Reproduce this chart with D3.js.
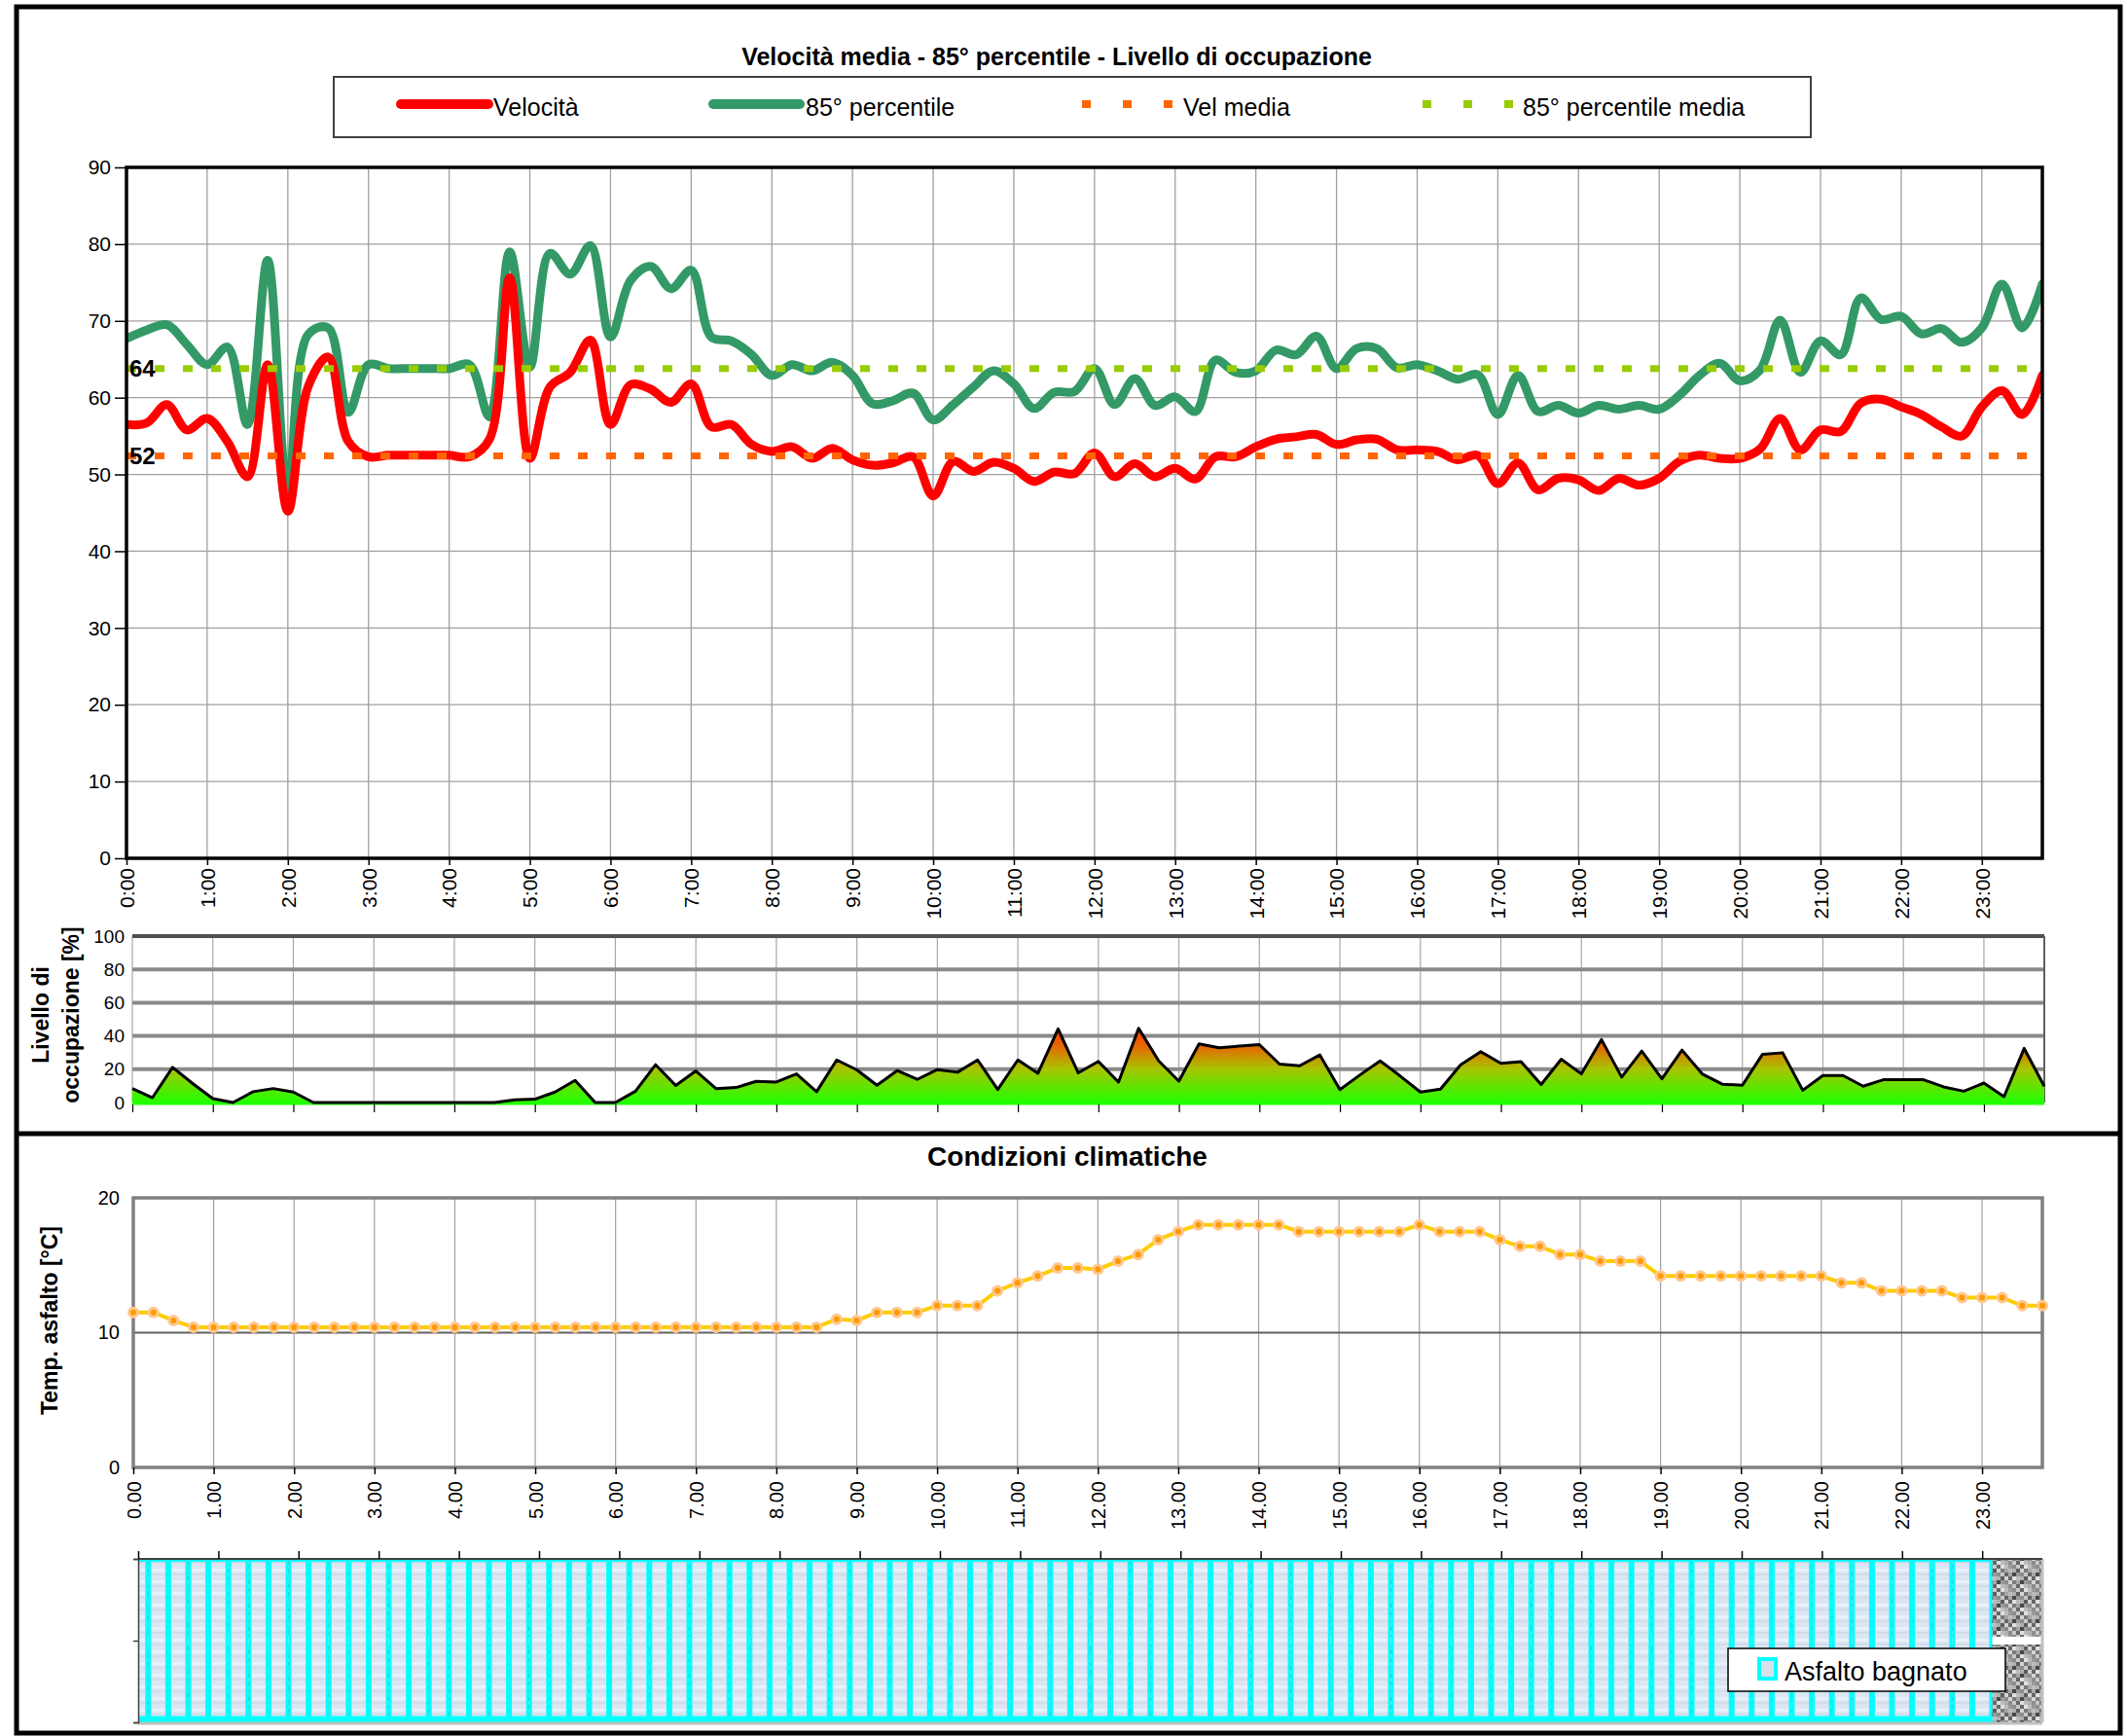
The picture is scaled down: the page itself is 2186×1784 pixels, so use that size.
<!DOCTYPE html>
<html>
<head>
<meta charset="utf-8">
<script src="https://cdn.jsdelivr.net/npm/d3@7"></script>
<style>
  body { margin: 0; background: #fff; }
  svg text { font-family: "Liberation Sans", Arial, sans-serif; }
</style>
</head>
<body>
<div id="chart"></div>
<script>
// ---------- data (15 minute slots, 0:00 .. 23:45) ----------
const hourLabels = ["0:00","1:00","2:00","3:00","4:00","5:00","6:00","7:00","8:00","9:00","10:00","11:00",
  "12:00","13:00","14:00","15:00","16:00","17:00","18:00","19:00","20:00","21:00","22:00","23:00"];
const hourLabelsTemp = ["0.00","1.00","2.00","3.00","4.00","5.00","6.00","7.00","8.00","9.00","10.00","11.00",
  "12.00","13.00","14.00","15.00","16.00","17.00","18.00","19.00","20.00","21.00","22.00","23.00"];

const velocita = [
  56.5, 56.7, 59.1, 55.8,  57.3, 54.3, 49.7, 64.3,  45.2, 61.4, 65.3, 54.3,  52.3, 52.5, 52.5, 52.5,
  52.5, 52.3, 54.6, 75.6,  52.1, 61.4, 63.3, 67.5,  56.5, 61.7, 61.1, 59.4,  61.8, 56.2, 56.5, 53.9,
  53.0, 53.6, 52.1, 53.4,  51.9, 51.2, 51.5, 52.3,  47.2, 51.7, 50.4, 51.6,  50.8, 49.1, 50.3, 50.1,
  52.8, 49.7, 51.4, 49.7,  50.8, 49.4, 52.3, 52.3,  53.6, 54.6, 54.9, 55.2,  53.9, 54.5, 54.6, 53.2,
  53.2, 53.0, 51.9, 52.5,  48.8, 51.5, 48.0, 49.5,  49.3, 47.9, 49.5, 48.6,  49.5, 51.7, 52.5, 52.1,
  52.1, 53.3, 57.3, 53.2,  55.8, 55.6, 59.3, 59.8,  58.8, 57.8, 56.2, 55.0,  58.8, 60.9, 57.8, 62.9
];
const percentile85 = [
  67.7, 68.8, 69.5, 66.9,  64.3, 66.6, 56.5, 77.9,  48.1, 68.2, 69.1, 58.1,  64.3, 63.8, 63.8, 63.8,
  63.8, 64.3, 57.5, 79.0,  64.0, 78.8, 76.1, 79.8,  67.9, 75.3, 77.1, 74.2,  76.6, 67.9, 67.4, 65.6,
  62.9, 64.3, 63.5, 64.6,  62.9, 59.2, 59.6, 60.6,  57.1, 59.1, 61.4, 63.5,  61.8, 58.6, 60.7, 60.8,
  63.8, 59.1, 62.5, 59.0,  60.1, 58.2, 64.9, 63.3,  63.5, 66.2, 65.6, 68.0,  63.8, 66.4, 66.4, 63.9,
  64.3, 63.5, 62.4, 63.0,  57.8, 62.9, 58.2, 59.0,  58.0, 59.0, 58.5, 59.0,  58.5, 60.3, 62.9, 64.5,
  62.2, 63.6, 70.1, 63.3,  67.4, 65.6, 73.0, 70.2,  70.6, 68.3, 69.0, 67.2,  69.1, 74.8, 69.1, 74.8
];
const velMedia = 52.4;
const percentile85Media = 63.8;

const occupazione = [
  8.4, 2.9, 21.1, 11.4,  2.3, 0, 6.5, 8.4,  6.3, 0, 0, 0,  0, 0, 0, 0,
  0, 0, 0, 1.6,  2.0, 6.3, 13.3, 0,  0, 6.8, 22.7, 10.2,  19.0, 8.4, 9.0, 12.7,
  12.3, 17.2, 6.5, 25.6,  19.6, 10.4, 19.2, 13.9,  19.8, 18.2, 25.6, 7.8,  25.6, 17.6, 44.2, 17.8,
  24.7, 12.3, 44.6, 25.0,  12.9, 35.2, 32.9, 33.9,  34.8, 23.1, 22.1, 28.6,  7.8, 16.6, 25.0, 15.9,
  6.3, 8.0, 22.7, 30.5,  23.5, 24.5, 10.8, 26.0,  17.2, 37.8, 15.3, 30.9,  14.3, 31.5, 17.2, 11.0,
  10.4, 29.0, 29.9, 7.4,  16.2, 16.2, 9.8, 13.7,  13.7, 13.7, 9.4, 6.8,  11.7, 3.5, 32.5, 9.8
];

const tempAsfalto = [
  11.5, 11.5, 10.9, 10.4,  10.4, 10.4, 10.4, 10.4,  10.4, 10.4, 10.4, 10.4,  10.4, 10.4, 10.4, 10.4,
  10.4, 10.4, 10.4, 10.4,  10.4, 10.4, 10.4, 10.4,  10.4, 10.4, 10.4, 10.4,  10.4, 10.4, 10.4, 10.4,
  10.4, 10.4, 10.4, 11.0,  10.9, 11.5, 11.5, 11.5,  12.0, 12.0, 12.0, 13.1,  13.7, 14.2, 14.8, 14.8,
  14.7, 15.3, 15.8, 16.9,  17.5, 18.0, 18.0, 18.0,  18.0, 18.0, 17.5, 17.5,  17.5, 17.5, 17.5, 17.5,
  18.0, 17.5, 17.5, 17.5,  16.9, 16.4, 16.4, 15.8,  15.8, 15.3, 15.3, 15.3,  14.2, 14.2, 14.2, 14.2,
  14.2, 14.2, 14.2, 14.2,  14.2, 13.7, 13.7, 13.1,  13.1, 13.1, 13.1, 12.6,  12.6, 12.6, 12.0, 12.0
];

// 1 = asfalto bagnato in that slot
const asfaltoBagnato = [
  1,1,1,1, 1,1,1,1, 1,1,1,1, 1,1,1,1, 1,1,1,1, 1,1,1,1, 1,1,1,1, 1,1,1,1,
  1,1,1,1, 1,1,1,1, 1,1,1,1, 1,1,1,1, 1,1,1,1, 1,1,1,1, 1,1,1,1, 1,1,1,1,
  1,1,1,1, 1,1,1,1, 1,1,1,1, 1,1,1,1, 1,1,1,1, 1,1,1,1, 1,1,1,1, 1,0,0,0
];

// ---------- svg ----------
const width = 2186, height = 1784;
const font = "\"Liberation Sans\", Arial, sans-serif";

const svg = d3.select("#chart").append("svg")
  .attr("width", width)
  .attr("height", height);

const defs = svg.append("defs");

const slot = i => i * 0.25;   // slot index -> hours

// outer frame + separator
svg.append("rect")
  .attr("x", 17).attr("y", 7)
  .attr("width", 2162).attr("height", 1774)
  .attr("fill", "#fff").attr("stroke", "#000").attr("stroke-width", 5);
svg.append("line")
  .attr("x1", 17).attr("x2", 2179).attr("y1", 1165).attr("y2", 1165)
  .attr("stroke", "#000").attr("stroke-width", 5);

function rotatedLabels(g, top) {
  g.selectAll(".tick text")
    .attr("transform", "rotate(-90)")
    .attr("text-anchor", "end")
    .attr("x", -top)
    .attr("y", 0)
    .attr("dy", "0.35em");
}

/*********************** Velocità chart *********************/
var xMain = d3.scaleLinear().domain([0, 23.75]).range([130, 2099]);
var yMain = d3.scaleLinear().domain([0, 90]).range([882, 172]);

svg.append("text")
  .attr("x", 1086).attr("y", 67)
  .attr("text-anchor", "middle")
  .style("font-size", "25px").style("font-weight", "bold")
  .text("Velocità media - 85° percentile - Livello di occupazione");

// legend
var leg = svg.append("g");
leg.append("rect")
  .attr("x", 343).attr("y", 79).attr("width", 1518).attr("height", 62)
  .attr("fill", "#fff").attr("stroke", "#404040").attr("stroke-width", 2);
leg.append("line").attr("x1", 412).attr("x2", 502).attr("y1", 107).attr("y2", 107)
  .attr("stroke", "#ff0000").attr("stroke-width", 10).attr("stroke-linecap", "round");
leg.append("line").attr("x1", 733).attr("x2", 822).attr("y1", 107).attr("y2", 107)
  .attr("stroke", "#339966").attr("stroke-width", 10).attr("stroke-linecap", "round");
leg.append("line").attr("x1", 1112).attr("x2", 1205).attr("y1", 107).attr("y2", 107)
  .attr("stroke", "#ff6600").attr("stroke-width", 8).attr("stroke-dasharray", "9,33");
leg.append("line").attr("x1", 1462).attr("x2", 1555).attr("y1", 107).attr("y2", 107)
  .attr("stroke", "#99cc00").attr("stroke-width", 8).attr("stroke-dasharray", "9,33");
[["Velocità", 507], ["85° percentile", 828], ["Vel media", 1216], ["85° percentile media", 1565]]
  .forEach(function (d) {
    leg.append("text").attr("x", d[1]).attr("y", 119)
      .style("font-size", "25px").text(d[0]);
  });

// grid
var gMain = svg.append("g");
gMain.selectAll(".vgrid").data(d3.range(1, 24)).enter().append("line")
  .attr("x1", d => xMain(d)).attr("x2", d => xMain(d))
  .attr("y1", yMain(90)).attr("y2", yMain(0))
  .attr("stroke", "#a0a0a0").attr("stroke-width", 1.3);
gMain.selectAll(".hgrid").data(d3.range(10, 90, 10)).enter().append("line")
  .attr("x1", xMain(0)).attr("x2", xMain(23.75))
  .attr("y1", d => yMain(d)).attr("y2", d => yMain(d))
  .attr("stroke", "#a0a0a0").attr("stroke-width", 1.3);

// axes
var yAxis = d3.axisLeft(yMain).tickValues(d3.range(0, 100, 10)).tickSize(12).tickPadding(4);
var gy = svg.append("g").attr("transform", "translate(" + xMain(0) + ",0)").call(yAxis);
gy.select(".domain").remove();
gy.selectAll("line").attr("stroke", "#000").attr("stroke-width", 1.5);
gy.selectAll("text").style("font-size", "21px").style("font-family", font).attr("fill", "#000");

var xAxis = d3.axisBottom(xMain).tickValues(d3.range(24)).tickFormat(d => hourLabels[d]).tickSize(7);
var gx = svg.append("g").attr("transform", "translate(0," + yMain(0) + ")").call(xAxis);
gx.select(".domain").remove();
gx.selectAll("line").attr("stroke", "#000").attr("stroke-width", 1.5);
gx.selectAll("text").style("font-size", "21px").style("font-family", font).attr("fill", "#000");
rotatedLabels(gx, 10);

// series
var plotLine = d3.line()
  .x(function (d, i) { return xMain(slot(i)); })
  .y(function (d) { return yMain(d); })
  .curve(d3.curveCatmullRom.alpha(0.5));

defs.append("clipPath").attr("id", "clipMain")
  .append("rect").attr("x", xMain(0)).attr("y", yMain(90) - 10)
  .attr("width", xMain(23.75) - xMain(0)).attr("height", yMain(0) - yMain(90) + 10);

var gSeries = svg.append("g").attr("clip-path", "url(#clipMain)");
gSeries.append("path").datum(percentile85)
  .attr("d", plotLine).attr("fill", "none")
  .attr("stroke", "#339966").attr("stroke-width", 9)
  .attr("stroke-linejoin", "round").attr("stroke-linecap", "round");
gSeries.append("path").datum(velocita)
  .attr("d", plotLine).attr("fill", "none")
  .attr("stroke", "#ff0000").attr("stroke-width", 9)
  .attr("stroke-linejoin", "round").attr("stroke-linecap", "round");

[[velMedia, "#ff6600"], [percentile85Media, "#99cc00"]].forEach(function (d) {
  svg.append("line")
    .attr("x1", xMain(0)).attr("x2", xMain(23.75))
    .attr("y1", yMain(d[0])).attr("y2", yMain(d[0]))
    .attr("stroke", d[1]).attr("stroke-width", 7)
    .attr("stroke-dasharray", "10,19");
  svg.append("text")
    .attr("x", xMain(0) + 3).attr("y", yMain(d[0]))
    .attr("dy", "0.36em")
    .style("font-size", "24px").style("font-weight", "bold")
    .text(Math.round(d[0]));
});

// plot border
svg.append("rect")
  .attr("x", xMain(0)).attr("y", yMain(90))
  .attr("width", xMain(23.75) - xMain(0)).attr("height", yMain(0) - yMain(90))
  .attr("fill", "none").attr("stroke", "#000").attr("stroke-width", 3.5);

/*********************** Occupazione chart *********************/
var xOcc = d3.scaleLinear().domain([0, 23.75]).range([136, 2101]);
var yOcc = d3.scaleLinear().domain([0, 100]).range([1133, 962]);

var grad = defs.append("linearGradient").attr("id", "occGrad")
  .attr("gradientUnits", "userSpaceOnUse")
  .attr("x1", 0).attr("x2", 0).attr("y1", yOcc(0)).attr("y2", yOcc(45));
[[0, "#22ff00"], [0.45, "#a8c400"], [0.72, "#e07000"], [1, "#ff3300"]].forEach(function (s) {
  grad.append("stop").attr("offset", s[0]).attr("stop-color", s[1]);
});

var gOcc = svg.append("g");
gOcc.selectAll(".vgrid").data(d3.range(0, 24)).enter().append("line")
  .attr("x1", d => xOcc(d)).attr("x2", d => xOcc(d))
  .attr("y1", yOcc(100)).attr("y2", yOcc(0))
  .attr("stroke", "#a8a8a8").attr("stroke-width", 1.2);
gOcc.selectAll(".hgrid").data([20, 40, 60, 80]).enter().append("line")
  .attr("x1", xOcc(0)).attr("x2", xOcc(23.75))
  .attr("y1", d => yOcc(d)).attr("y2", d => yOcc(d))
  .attr("stroke", "#8a8a8a").attr("stroke-width", 4);
gOcc.append("line")
  .attr("x1", xOcc(0)).attr("x2", xOcc(23.75))
  .attr("y1", yOcc(100)).attr("y2", yOcc(100))
  .attr("stroke", "#505050").attr("stroke-width", 4);
gOcc.append("line")
  .attr("x1", xOcc(23.75)).attr("x2", xOcc(23.75))
  .attr("y1", yOcc(100)).attr("y2", yOcc(0))
  .attr("stroke", "#606060").attr("stroke-width", 2);

var occArea = d3.area()
  .x(function (d, i) { return xOcc(slot(i)); })
  .y0(yOcc(0))
  .y1(function (d) { return yOcc(d); });
var occLine = d3.line()
  .x(function (d, i) { return xOcc(slot(i)); })
  .y(function (d) { return yOcc(d); });

gOcc.append("path").datum(occupazione).attr("d", occArea).attr("fill", "url(#occGrad)");
gOcc.append("line")
  .attr("x1", xOcc(0)).attr("x2", xOcc(23.75))
  .attr("y1", yOcc(0) + 1).attr("y2", yOcc(0) + 1)
  .attr("stroke", "#22ff00").attr("stroke-width", 3);
gOcc.append("path").datum(occupazione).attr("d", occLine)
  .attr("fill", "none").attr("stroke", "#000").attr("stroke-width", 3)
  .attr("stroke-linejoin", "round");

var occY = d3.axisLeft(yOcc).tickValues([0, 20, 40, 60, 80, 100]).tickSize(0).tickPadding(8);
var goy = svg.append("g").attr("transform", "translate(" + xOcc(0) + ",0)").call(occY);
goy.select(".domain").remove();
goy.selectAll("text").style("font-size", "19px").style("font-family", font).attr("fill", "#000");

var occX = d3.axisBottom(xOcc).tickValues(d3.range(24)).tickFormat("").tickSize(8);
var gox = svg.append("g").attr("transform", "translate(0," + (yOcc(0) + 2) + ")").call(occX);
gox.select(".domain").remove();
gox.selectAll("line").attr("stroke", "#000").attr("stroke-width", 1.2);

var occTitle = svg.append("text")
  .attr("transform", "translate(0,1043) rotate(-90)")
  .attr("text-anchor", "middle")
  .style("font-size", "23px").style("font-weight", "bold");
occTitle.append("tspan").attr("x", 0).attr("y", 50).text("Livello di");
occTitle.append("tspan").attr("x", 0).attr("y", 81).text("occupazione [%]");

/*********************** Condizioni climatiche *********************/
svg.append("text")
  .attr("x", 1097).attr("y", 1198)
  .attr("text-anchor", "middle")
  .style("font-size", "28px").style("font-weight", "bold")
  .text("Condizioni climatiche");

var xTemp = d3.scaleLinear().domain([0, 23.75]).range([137, 2099]);
var yTemp = d3.scaleLinear().domain([0, 20]).range([1508, 1231]);

var gTemp = svg.append("g");
gTemp.selectAll(".vgrid").data(d3.range(1, 24)).enter().append("line")
  .attr("x1", d => xTemp(d)).attr("x2", d => xTemp(d))
  .attr("y1", yTemp(20)).attr("y2", yTemp(0))
  .attr("stroke", "#a0a0a0").attr("stroke-width", 1.2);
gTemp.append("line")
  .attr("x1", xTemp(0)).attr("x2", xTemp(23.75))
  .attr("y1", yTemp(10)).attr("y2", yTemp(10))
  .attr("stroke", "#606060").attr("stroke-width", 1.8);
gTemp.append("rect")
  .attr("x", xTemp(0)).attr("y", yTemp(20))
  .attr("width", xTemp(23.75) - xTemp(0)).attr("height", yTemp(0) - yTemp(20))
  .attr("fill", "none").attr("stroke", "#808080").attr("stroke-width", 3.5);

var tY = d3.axisLeft(yTemp).tickValues([0, 10, 20]).tickSize(0).tickPadding(14);
var gty = svg.append("g").attr("transform", "translate(" + xTemp(0) + ",0)").call(tY);
gty.select(".domain").remove();
gty.selectAll("text").style("font-size", "20px").style("font-family", font).attr("fill", "#000");

var tX = d3.axisBottom(xTemp).tickValues(d3.range(24)).tickFormat(d => hourLabelsTemp[d]).tickSize(7);
var gtx = svg.append("g").attr("transform", "translate(0," + yTemp(0) + ")").call(tX);
gtx.select(".domain").remove();
gtx.selectAll("line").attr("stroke", "#000").attr("stroke-width", 1.5);
gtx.selectAll("text").style("font-size", "20px").style("font-family", font).attr("fill", "#000");
rotatedLabels(gtx, 14);

var tempLine = d3.line()
  .x(function (d, i) { return xTemp(slot(i)); })
  .y(function (d) { return yTemp(d); });
gTemp.append("path").datum(tempAsfalto).attr("d", tempLine)
  .attr("fill", "none").attr("stroke", "#ffcc00").attr("stroke-width", 4)
  .attr("stroke-linejoin", "round");
gTemp.selectAll(".halo").data(tempAsfalto).enter().append("circle")
  .attr("cx", (d, i) => xTemp(slot(i))).attr("cy", d => yTemp(d))
  .attr("r", 6).attr("fill", "#ffc890");
gTemp.selectAll(".dot").data(tempAsfalto).enter().append("circle")
  .attr("cx", (d, i) => xTemp(slot(i))).attr("cy", d => yTemp(d))
  .attr("r", 3).attr("fill", "#ff9900");

svg.append("text")
  .attr("transform", "translate(59,1357) rotate(-90)")
  .attr("text-anchor", "middle")
  .style("font-size", "23px").style("font-weight", "bold")
  .text("Temp. asfalto [°C]");

/*********************** Asfalto bagnato *********************/
var xWet = d3.scaleLinear().domain([0, 23.75]).range([142, 2099]);
var yWet = d3.scaleLinear().domain([0, 1]).range([1770, 1602]);

// granite texture for the plot background
var shades = ["#9a9a9a", "#5c5c5c", "#c8c8c8", "#7a7a7a", "#e0e0e0", "#484848",
              "#b0b0b0", "#8c8c8c", "#d4d4d4", "#666666", "#a6a6a6", "#bdbdbd"];
var gran = defs.append("pattern").attr("id", "granito")
  .attr("patternUnits", "userSpaceOnUse").attr("width", 24).attr("height", 24);
d3.range(36).forEach(function (k) {
  gran.append("rect")
    .attr("x", (k % 6) * 4).attr("y", Math.floor(k / 6) * 4)
    .attr("width", 4).attr("height", 4)
    .attr("fill", shades[(k * 7 + Math.floor(k / 6) * 5) % shades.length]);
});

var wetFill = defs.append("pattern").attr("id", "wetFill")
  .attr("patternUnits", "userSpaceOnUse").attr("width", 20).attr("height", 12);
wetFill.append("rect").attr("width", 20).attr("height", 12).attr("fill", "#dce6f2");
wetFill.append("rect").attr("y", 4).attr("width", 20).attr("height", 3).attr("fill", "#e8f0fa");
wetFill.append("rect").attr("y", 9).attr("width", 20).attr("height", 2).attr("fill", "#d2dcea");

var gWet = svg.append("g");
gWet.append("rect")
  .attr("x", xWet(0)).attr("y", yWet(1))
  .attr("width", xWet(23.75) - xWet(0)).attr("height", yWet(0) - yWet(1))
  .attr("fill", "url(#granito)");
gWet.append("line")
  .attr("x1", xWet(0)).attr("x2", xWet(23.75))
  .attr("y1", yWet(0.5)).attr("y2", yWet(0.5))
  .attr("stroke", "#fff").attr("stroke-width", 8);

defs.append("clipPath").attr("id", "clipWet")
  .append("rect").attr("x", xWet(0)).attr("y", yWet(1) - 3)
  .attr("width", xWet(23.75) - xWet(0)).attr("height", yWet(0) - yWet(1) + 6);

var slotW = xWet(0.25) - xWet(0);
gWet.append("g").attr("clip-path", "url(#clipWet)")
  .selectAll("rect")
  .data(asfaltoBagnato.map((v, i) => ({ v: v, i: i })).filter(d => d.v > 0))
  .enter().append("rect")
  .attr("x", d => xWet(slot(d.i)) - slotW / 2 + 1.5)
  .attr("y", d => yWet(d.v) + 1.5)
  .attr("width", slotW - 3)
  .attr("height", d => yWet(0) - yWet(d.v) - 3)
  .attr("fill", "url(#wetFill)")
  .attr("stroke", "#00ffff").attr("stroke-width", 3);
gWet.append("line")
  .attr("x1", xWet(0)).attr("x2", xWet(23.125))
  .attr("y1", yWet(0) - 3).attr("y2", yWet(0) - 3)
  .attr("stroke", "#00ffff").attr("stroke-width", 7);

// borders
gWet.append("line").attr("x1", xWet(23.75)).attr("x2", xWet(23.75))
  .attr("y1", yWet(1)).attr("y2", yWet(0))
  .attr("stroke", "#c0c0c0").attr("stroke-width", 3);
gWet.append("line").attr("x1", xWet(0)).attr("x2", xWet(23.75))
  .attr("y1", yWet(0) + 1).attr("y2", yWet(0) + 1)
  .attr("stroke", "#c0c0c0").attr("stroke-width", 3);
gWet.append("line").attr("x1", xWet(0)).attr("x2", xWet(23.75))
  .attr("y1", yWet(1)).attr("y2", yWet(1))
  .attr("stroke", "#404040").attr("stroke-width", 2);

var wY = d3.axisLeft(yWet).tickValues([0, 0.5, 1]).tickFormat("").tickSize(5);
var gwy = svg.append("g").attr("transform", "translate(" + xWet(0) + ",0)").call(wY);
gwy.selectAll("path, line").attr("stroke", "#404040").attr("stroke-width", 1.5);

var wX = d3.axisTop(xWet).tickValues(d3.range(24)).tickFormat("").tickSize(8);
var gwx = svg.append("g").attr("transform", "translate(0," + yWet(1) + ")").call(wX);
gwx.select(".domain").remove();
gwx.selectAll("line").attr("stroke", "#000").attr("stroke-width", 1.5);

// legend
var wl = svg.append("g");
wl.append("rect").attr("x", 1776).attr("y", 1694).attr("width", 285).attr("height", 44)
  .attr("fill", "#fff").attr("stroke", "#000").attr("stroke-width", 1.5);
wl.append("rect").attr("x", 1808).attr("y", 1705).attr("width", 17).attr("height", 20)
  .attr("fill", "#d8e0ea").attr("stroke", "#00ffff").attr("stroke-width", 4);
wl.append("text").attr("x", 1834).attr("y", 1727)
  .style("font-size", "27px").text("Asfalto bagnato");
</script>
</body>
</html>
